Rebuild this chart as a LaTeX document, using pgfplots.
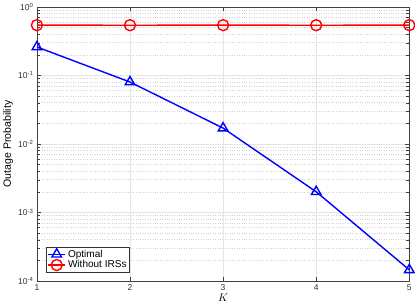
\documentclass[border=0pt]{standalone}
\usepackage{fontspec}
\setmainfont{Liberation Sans}
\usepackage{pgfplots}
\pgfplotsset{compat=1.18}
\definecolor{mred}{RGB}{255,0,0}
\definecolor{mblue}{RGB}{0,0,255}
\begin{document}
\begin{tikzpicture}
\begin{axis}[
  scale only axis,
  width=371pt, height=273pt,
  ymode=log,
  xmin=1, xmax=5,
  ymin=1e-4, ymax=1,
  xtick={1,2,3,4,5},
  ytick={1e-4,1e-3,1e-2,1e-1,1},
  yticklabels={10\textsuperscript{-4},10\textsuperscript{-3},10\textsuperscript{-2},10\textsuperscript{-1},10\textsuperscript{0}},
  /pgf/number format/assume math mode=true,
  tick label style={font=\fontsize{8.5}{10}\selectfont, color=black!80},
  xlabel={$K$},
  ylabel={Outage Probability},
  xlabel style={font=\fontsize{11}{13}\selectfont, yshift=3pt},
  ylabel style={font=\fontsize{10.5}{12}\selectfont, yshift=-2pt},
  grid=both,
  major grid style={gray!20, line width=0.5pt},
  minor grid style={gray!35, dotted, line width=0.5pt},
  axis line style={black!75, line width=0.5pt},
  tick style={black!75},
  tick align=inside,
  legend style={font=\fontsize{10}{12}\selectfont, draw=black!80, line width=0.5pt, inner sep=1pt, row sep=-2pt, at={(0.025,0.03)}, anchor=south west},
  legend cell align=left,
]
\addplot[draw=mblue, line width=1.4pt, mark=triangle, mark size=5.5pt, mark options={solid, draw=mblue}] coordinates {
  (1,0.26) (2,0.08) (3,0.017) (4,0.002) (5,0.000145)
};
\addlegendentry{Optimal}
\addplot[draw=mred, line width=1.4pt, mark=o, mark size=5.5pt, mark options={solid, draw=mred}] coordinates {
  (1,0.541) (2,0.540) (3,0.541) (4,0.540) (5,0.541)
};
\addlegendentry{Without IRSs}
\end{axis}
\end{tikzpicture}
\end{document}
